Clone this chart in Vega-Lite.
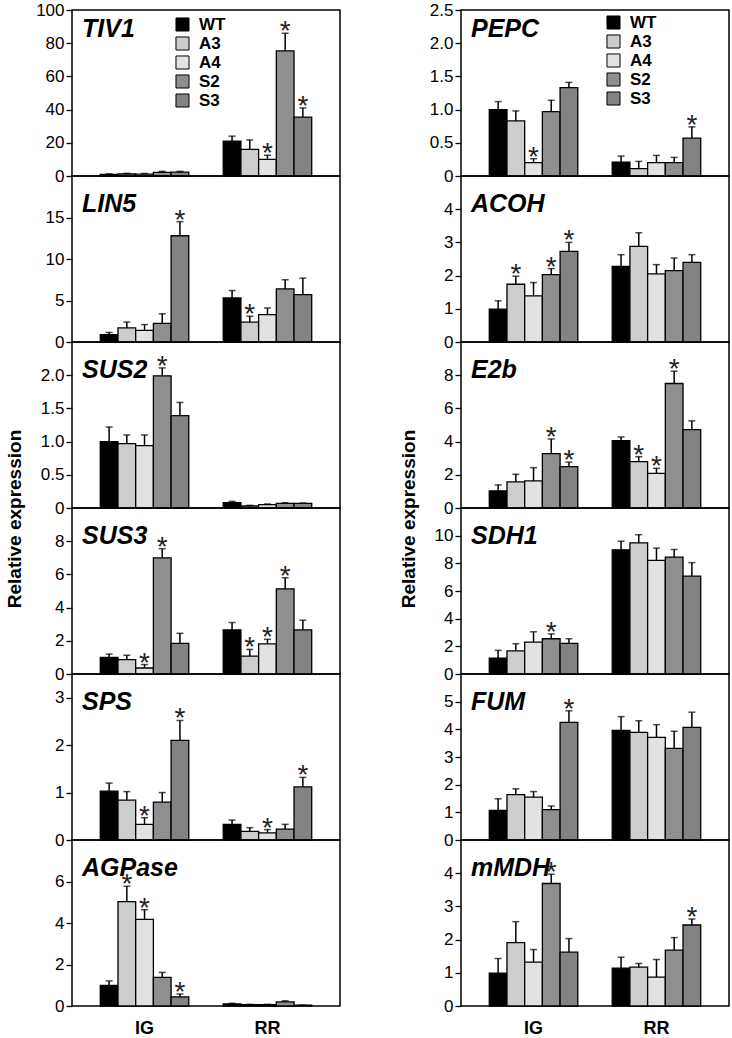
{
"$schema": "https://vega.github.io/schema/vega-lite/v6.json",
"padding": {"top": 0, "left": 5, "right": 2, "bottom": 0},
"data": {"values": [
{"gene":"TIV1","tissue":"IG","line":"WT","value":1.0,"upper":1.3,"sig":false},
{"gene":"TIV1","tissue":"IG","line":"A3","value":1.2,"upper":1.6,"sig":false},
{"gene":"TIV1","tissue":"IG","line":"A4","value":1.1,"upper":1.5,"sig":false},
{"gene":"TIV1","tissue":"IG","line":"S2","value":2.2,"upper":2.8,"sig":false},
{"gene":"TIV1","tissue":"IG","line":"S3","value":2.3,"upper":2.8,"sig":false},
{"gene":"TIV1","tissue":"RR","line":"WT","value":21,"upper":24,"sig":false},
{"gene":"TIV1","tissue":"RR","line":"A3","value":16,"upper":21.7,"sig":false},
{"gene":"TIV1","tissue":"RR","line":"A4","value":10,"upper":12.5,"sig":true},
{"gene":"TIV1","tissue":"RR","line":"S2","value":75.4,"upper":86,"sig":true},
{"gene":"TIV1","tissue":"RR","line":"S3","value":35.5,"upper":41,"sig":true},
{"gene":"LIN5","tissue":"IG","line":"WT","value":0.9,"upper":1.15,"sig":false},
{"gene":"LIN5","tissue":"IG","line":"A3","value":1.7,"upper":2.4,"sig":false},
{"gene":"LIN5","tissue":"IG","line":"A4","value":1.4,"upper":2.1,"sig":false},
{"gene":"LIN5","tissue":"IG","line":"S2","value":2.25,"upper":3.4,"sig":false},
{"gene":"LIN5","tissue":"IG","line":"S3","value":12.8,"upper":14.5,"sig":true},
{"gene":"LIN5","tissue":"RR","line":"WT","value":5.3,"upper":6.2,"sig":false},
{"gene":"LIN5","tissue":"RR","line":"A3","value":2.4,"upper":3.1,"sig":true},
{"gene":"LIN5","tissue":"RR","line":"A4","value":3.3,"upper":4.1,"sig":false},
{"gene":"LIN5","tissue":"RR","line":"S2","value":6.4,"upper":7.5,"sig":false},
{"gene":"LIN5","tissue":"RR","line":"S3","value":5.7,"upper":7.7,"sig":false},
{"gene":"SUS2","tissue":"IG","line":"WT","value":1.0,"upper":1.22,"sig":false},
{"gene":"SUS2","tissue":"IG","line":"A3","value":0.97,"upper":1.1,"sig":false},
{"gene":"SUS2","tissue":"IG","line":"A4","value":0.94,"upper":1.1,"sig":false},
{"gene":"SUS2","tissue":"IG","line":"S2","value":1.99,"upper":2.11,"sig":true},
{"gene":"SUS2","tissue":"IG","line":"S3","value":1.39,"upper":1.59,"sig":false},
{"gene":"SUS2","tissue":"RR","line":"WT","value":0.08,"upper":0.1,"sig":false},
{"gene":"SUS2","tissue":"RR","line":"A3","value":0.03,"upper":0.04,"sig":false},
{"gene":"SUS2","tissue":"RR","line":"A4","value":0.05,"upper":0.06,"sig":false},
{"gene":"SUS2","tissue":"RR","line":"S2","value":0.07,"upper":0.08,"sig":false},
{"gene":"SUS2","tissue":"RR","line":"S3","value":0.07,"upper":0.075,"sig":false},
{"gene":"SUS3","tissue":"IG","line":"WT","value":1.0,"upper":1.2,"sig":false},
{"gene":"SUS3","tissue":"IG","line":"A3","value":0.87,"upper":1.13,"sig":false},
{"gene":"SUS3","tissue":"IG","line":"A4","value":0.36,"upper":0.57,"sig":true},
{"gene":"SUS3","tissue":"IG","line":"S2","value":7.0,"upper":7.55,"sig":true},
{"gene":"SUS3","tissue":"IG","line":"S3","value":1.84,"upper":2.45,"sig":false},
{"gene":"SUS3","tissue":"RR","line":"WT","value":2.66,"upper":3.1,"sig":false},
{"gene":"SUS3","tissue":"RR","line":"A3","value":1.08,"upper":1.48,"sig":true},
{"gene":"SUS3","tissue":"RR","line":"A4","value":1.82,"upper":2.09,"sig":true},
{"gene":"SUS3","tissue":"RR","line":"S2","value":5.13,"upper":5.8,"sig":true},
{"gene":"SUS3","tissue":"RR","line":"S3","value":2.66,"upper":3.24,"sig":false},
{"gene":"SPS","tissue":"IG","line":"WT","value":1.03,"upper":1.2,"sig":false},
{"gene":"SPS","tissue":"IG","line":"A3","value":0.84,"upper":1.02,"sig":false},
{"gene":"SPS","tissue":"IG","line":"A4","value":0.33,"upper":0.47,"sig":true},
{"gene":"SPS","tissue":"IG","line":"S2","value":0.8,"upper":1.0,"sig":false},
{"gene":"SPS","tissue":"IG","line":"S3","value":2.1,"upper":2.52,"sig":true},
{"gene":"SPS","tissue":"RR","line":"WT","value":0.33,"upper":0.42,"sig":false},
{"gene":"SPS","tissue":"RR","line":"A3","value":0.18,"upper":0.26,"sig":false},
{"gene":"SPS","tissue":"RR","line":"A4","value":0.15,"upper":0.22,"sig":true},
{"gene":"SPS","tissue":"RR","line":"S2","value":0.23,"upper":0.33,"sig":false},
{"gene":"SPS","tissue":"RR","line":"S3","value":1.12,"upper":1.32,"sig":true},
{"gene":"AGPase","tissue":"IG","line":"WT","value":0.99,"upper":1.21,"sig":false},
{"gene":"AGPase","tissue":"IG","line":"A3","value":5.03,"upper":5.77,"sig":true},
{"gene":"AGPase","tissue":"IG","line":"A4","value":4.17,"upper":4.64,"sig":true},
{"gene":"AGPase","tissue":"IG","line":"S2","value":1.38,"upper":1.62,"sig":false},
{"gene":"AGPase","tissue":"IG","line":"S3","value":0.44,"upper":0.58,"sig":true},
{"gene":"AGPase","tissue":"RR","line":"WT","value":0.1,"upper":0.13,"sig":false},
{"gene":"AGPase","tissue":"RR","line":"A3","value":0.07,"upper":0.08,"sig":false},
{"gene":"AGPase","tissue":"RR","line":"A4","value":0.07,"upper":0.08,"sig":false},
{"gene":"AGPase","tissue":"RR","line":"S2","value":0.2,"upper":0.25,"sig":false},
{"gene":"AGPase","tissue":"RR","line":"S3","value":0.04,"upper":0.05,"sig":false},
{"gene":"PEPC","tissue":"IG","line":"WT","value":1.0,"upper":1.12,"sig":false},
{"gene":"PEPC","tissue":"IG","line":"A3","value":0.83,"upper":0.98,"sig":false},
{"gene":"PEPC","tissue":"IG","line":"A4","value":0.2,"upper":0.26,"sig":true},
{"gene":"PEPC","tissue":"IG","line":"S2","value":0.97,"upper":1.14,"sig":false},
{"gene":"PEPC","tissue":"IG","line":"S3","value":1.33,"upper":1.41,"sig":false},
{"gene":"PEPC","tissue":"RR","line":"WT","value":0.21,"upper":0.3,"sig":false},
{"gene":"PEPC","tissue":"RR","line":"A3","value":0.11,"upper":0.22,"sig":false},
{"gene":"PEPC","tissue":"RR","line":"A4","value":0.2,"upper":0.31,"sig":false},
{"gene":"PEPC","tissue":"RR","line":"S2","value":0.2,"upper":0.28,"sig":false},
{"gene":"PEPC","tissue":"RR","line":"S3","value":0.57,"upper":0.74,"sig":true},
{"gene":"ACOH","tissue":"IG","line":"WT","value":0.99,"upper":1.24,"sig":false},
{"gene":"ACOH","tissue":"IG","line":"A3","value":1.74,"upper":1.98,"sig":true},
{"gene":"ACOH","tissue":"IG","line":"A4","value":1.39,"upper":1.79,"sig":false},
{"gene":"ACOH","tissue":"IG","line":"S2","value":2.03,"upper":2.21,"sig":true},
{"gene":"ACOH","tissue":"IG","line":"S3","value":2.73,"upper":3.0,"sig":true},
{"gene":"ACOH","tissue":"RR","line":"WT","value":2.28,"upper":2.63,"sig":false},
{"gene":"ACOH","tissue":"RR","line":"A3","value":2.88,"upper":3.29,"sig":false},
{"gene":"ACOH","tissue":"RR","line":"A4","value":2.05,"upper":2.33,"sig":false},
{"gene":"ACOH","tissue":"RR","line":"S2","value":2.15,"upper":2.53,"sig":false},
{"gene":"ACOH","tissue":"RR","line":"S3","value":2.4,"upper":2.63,"sig":false},
{"gene":"E2b","tissue":"IG","line":"WT","value":1.03,"upper":1.39,"sig":false},
{"gene":"E2b","tissue":"IG","line":"A3","value":1.57,"upper":2.03,"sig":false},
{"gene":"E2b","tissue":"IG","line":"A4","value":1.63,"upper":2.43,"sig":false},
{"gene":"E2b","tissue":"IG","line":"S2","value":3.28,"upper":4.16,"sig":true},
{"gene":"E2b","tissue":"IG","line":"S3","value":2.49,"upper":2.76,"sig":true},
{"gene":"E2b","tissue":"RR","line":"WT","value":4.06,"upper":4.28,"sig":false},
{"gene":"E2b","tissue":"RR","line":"A3","value":2.79,"upper":3.09,"sig":true},
{"gene":"E2b","tissue":"RR","line":"A4","value":2.09,"upper":2.39,"sig":true},
{"gene":"E2b","tissue":"RR","line":"S2","value":7.5,"upper":8.24,"sig":true},
{"gene":"E2b","tissue":"RR","line":"S3","value":4.72,"upper":5.25,"sig":false},
{"gene":"SDH1","tissue":"IG","line":"WT","value":1.14,"upper":1.71,"sig":false},
{"gene":"SDH1","tissue":"IG","line":"A3","value":1.67,"upper":2.19,"sig":false},
{"gene":"SDH1","tissue":"IG","line":"A4","value":2.31,"upper":3.05,"sig":false},
{"gene":"SDH1","tissue":"IG","line":"S2","value":2.55,"upper":2.9,"sig":true},
{"gene":"SDH1","tissue":"IG","line":"S3","value":2.21,"upper":2.55,"sig":false},
{"gene":"SDH1","tissue":"RR","line":"WT","value":8.98,"upper":9.6,"sig":false},
{"gene":"SDH1","tissue":"RR","line":"A3","value":9.48,"upper":10.07,"sig":false},
{"gene":"SDH1","tissue":"RR","line":"A4","value":8.21,"upper":9.1,"sig":false},
{"gene":"SDH1","tissue":"RR","line":"S2","value":8.45,"upper":9.0,"sig":false},
{"gene":"SDH1","tissue":"RR","line":"S3","value":7.07,"upper":8.05,"sig":false},
{"gene":"FUM","tissue":"IG","line":"WT","value":1.07,"upper":1.49,"sig":false},
{"gene":"FUM","tissue":"IG","line":"A3","value":1.64,"upper":1.85,"sig":false},
{"gene":"FUM","tissue":"IG","line":"A4","value":1.55,"upper":1.75,"sig":false},
{"gene":"FUM","tissue":"IG","line":"S2","value":1.1,"upper":1.23,"sig":false},
{"gene":"FUM","tissue":"IG","line":"S3","value":4.25,"upper":4.67,"sig":true},
{"gene":"FUM","tissue":"RR","line":"WT","value":3.96,"upper":4.46,"sig":false},
{"gene":"FUM","tissue":"RR","line":"A3","value":3.89,"upper":4.31,"sig":false},
{"gene":"FUM","tissue":"RR","line":"A4","value":3.71,"upper":4.17,"sig":false},
{"gene":"FUM","tissue":"RR","line":"S2","value":3.31,"upper":3.93,"sig":false},
{"gene":"FUM","tissue":"RR","line":"S3","value":4.07,"upper":4.62,"sig":false},
{"gene":"mMDH","tissue":"IG","line":"WT","value":0.99,"upper":1.43,"sig":false},
{"gene":"mMDH","tissue":"IG","line":"A3","value":1.91,"upper":2.54,"sig":false},
{"gene":"mMDH","tissue":"IG","line":"A4","value":1.32,"upper":1.7,"sig":false},
{"gene":"mMDH","tissue":"IG","line":"S2","value":3.69,"upper":3.97,"sig":true},
{"gene":"mMDH","tissue":"IG","line":"S3","value":1.62,"upper":2.03,"sig":false},
{"gene":"mMDH","tissue":"RR","line":"WT","value":1.14,"upper":1.47,"sig":false},
{"gene":"mMDH","tissue":"RR","line":"A3","value":1.17,"upper":1.28,"sig":false},
{"gene":"mMDH","tissue":"RR","line":"A4","value":0.87,"upper":1.4,"sig":false},
{"gene":"mMDH","tissue":"RR","line":"S2","value":1.68,"upper":2.06,"sig":false},
{"gene":"mMDH","tissue":"RR","line":"S3","value":2.44,"upper":2.62,"sig":true}
]},
"spacing": 58,
"resolve": {"scale": {"x": "independent", "y": "independent", "xOffset": "independent"}, "axis": {"x": "independent", "y": "independent"}, "legend": {"fill": "independent"}},
"hconcat": [
{
"spacing": 0, "bounds": "flush",
"title": {"text": "Relative expression", "orient": "left", "anchor": "middle", "frame": "bounds", "offset": 10, "dx": 0, "fontSize": 19, "fontWeight": "bold", "fontStyle": "normal"},
"resolve": {"scale": {"x": "independent", "y": "independent", "xOffset": "independent"}, "axis": {"x": "independent", "y": "independent"}, "legend": {"fill": "independent"}},
"vconcat": [
{"width": 268, "height": 166, "title": {"text": "TIV1"},
 "transform": [{"filter": "datum.gene === 'TIV1'"}],
 "encoding": {"x": {"field": "tissue", "type": "nominal", "sort": ["IG", "RR"], "scale": {"paddingInner": 0.28, "paddingOuter": 0.23}, "axis": null},
  "xOffset": {"field": "line", "type": "nominal", "sort": ["WT", "A3", "A4", "S2", "S3"], "scale": {"paddingInner": 0, "paddingOuter": 0}}},
 "layer": [
  {"mark": {"type": "bar", "stroke": "black", "strokeWidth": 1.3},
   "encoding": {"y": {"field": "value", "type": "quantitative", "title": null, "scale": {"domain": [0, 100], "nice": false}, "axis": {"values": [0, 20, 40, 60, 80, 100], "format": "d", "tickCount": 20}},
    "fill": {"field": "line", "type": "nominal", "scale": {"domain": ["WT", "A3", "A4", "S2", "S3"], "range": ["#000000", "#cdcdcd", "#e2e2e2", "#8f8f8f", "#838383"]},
     "legend": {"orient": "none", "legendX": 102, "legendY": 6, "title": null, "padding": 0, "symbolType": "square", "symbolSize": 170, "symbolStrokeColor": "black", "symbolStrokeWidth": 1, "labelFontSize": 17, "labelFontWeight": "bold", "labelFont": "Liberation Sans", "labelColor": "black", "rowPadding": 0, "labelOffset": 8}}}},
  {"mark": {"type": "rule", "color": "black", "strokeWidth": 1.5},
   "encoding": {"y": {"field": "value", "type": "quantitative", "title": null, "scale": {"domain": [0, 100], "nice": false}}, "y2": {"field": "upper"}}},
  {"mark": {"type": "tick", "orient": "horizontal", "color": "black", "thickness": 1.5, "size": 7},
   "encoding": {"y": {"field": "upper", "type": "quantitative", "title": null, "scale": {"domain": [0, 100], "nice": false}}}},
  {"transform": [{"filter": "datum.sig"}],
   "mark": {"type": "text", "text": "*", "fontSize": 28, "dy": 7, "baseline": "alphabetic", "font": "Liberation Sans", "color": "#222222"},
   "encoding": {"y": {"field": "upper", "type": "quantitative", "title": null, "scale": {"domain": [0, 100], "nice": false}}}}
 ]},
{"width": 268, "height": 166, "title": {"text": "LIN5"},
 "transform": [{"filter": "datum.gene === 'LIN5'"}],
 "encoding": {"x": {"field": "tissue", "type": "nominal", "sort": ["IG", "RR"], "scale": {"paddingInner": 0.28, "paddingOuter": 0.23}, "axis": null},
  "xOffset": {"field": "line", "type": "nominal", "sort": ["WT", "A3", "A4", "S2", "S3"], "scale": {"paddingInner": 0, "paddingOuter": 0}}},
 "layer": [
  {"mark": {"type": "bar", "stroke": "black", "strokeWidth": 1.3},
   "encoding": {"y": {"field": "value", "type": "quantitative", "title": null, "scale": {"domain": [0, 20], "nice": false}, "axis": {"values": [0, 5, 10, 15], "format": "d", "tickCount": 20}},
    "fill": {"field": "line", "type": "nominal", "scale": {"domain": ["WT", "A3", "A4", "S2", "S3"], "range": ["#000000", "#cdcdcd", "#e2e2e2", "#8f8f8f", "#838383"]}, "legend": null}}},
  {"mark": {"type": "rule", "color": "black", "strokeWidth": 1.5},
   "encoding": {"y": {"field": "value", "type": "quantitative", "title": null, "scale": {"domain": [0, 20], "nice": false}}, "y2": {"field": "upper"}}},
  {"mark": {"type": "tick", "orient": "horizontal", "color": "black", "thickness": 1.5, "size": 7},
   "encoding": {"y": {"field": "upper", "type": "quantitative", "title": null, "scale": {"domain": [0, 20], "nice": false}}}},
  {"transform": [{"filter": "datum.sig"}],
   "mark": {"type": "text", "text": "*", "fontSize": 28, "dy": 7, "baseline": "alphabetic", "font": "Liberation Sans", "color": "#222222"},
   "encoding": {"y": {"field": "upper", "type": "quantitative", "title": null, "scale": {"domain": [0, 20], "nice": false}}}}
 ]},
{"width": 268, "height": 166, "title": {"text": "SUS2"},
 "transform": [{"filter": "datum.gene === 'SUS2'"}],
 "encoding": {"x": {"field": "tissue", "type": "nominal", "sort": ["IG", "RR"], "scale": {"paddingInner": 0.28, "paddingOuter": 0.23}, "axis": null},
  "xOffset": {"field": "line", "type": "nominal", "sort": ["WT", "A3", "A4", "S2", "S3"], "scale": {"paddingInner": 0, "paddingOuter": 0}}},
 "layer": [
  {"mark": {"type": "bar", "stroke": "black", "strokeWidth": 1.3},
   "encoding": {"y": {"field": "value", "type": "quantitative", "title": null, "scale": {"domain": [0, 2.5], "nice": false}, "axis": {"values": [0, 0.5, 1, 1.5, 2], "tickCount": 20, "labelExpr": "datum.value == 0 ? '0' : format(datum.value, '.1f')"}},
    "fill": {"field": "line", "type": "nominal", "scale": {"domain": ["WT", "A3", "A4", "S2", "S3"], "range": ["#000000", "#cdcdcd", "#e2e2e2", "#8f8f8f", "#838383"]}, "legend": null}}},
  {"mark": {"type": "rule", "color": "black", "strokeWidth": 1.5},
   "encoding": {"y": {"field": "value", "type": "quantitative", "title": null, "scale": {"domain": [0, 2.5], "nice": false}}, "y2": {"field": "upper"}}},
  {"mark": {"type": "tick", "orient": "horizontal", "color": "black", "thickness": 1.5, "size": 7},
   "encoding": {"y": {"field": "upper", "type": "quantitative", "title": null, "scale": {"domain": [0, 2.5], "nice": false}}}},
  {"transform": [{"filter": "datum.sig"}],
   "mark": {"type": "text", "text": "*", "fontSize": 28, "dy": 7, "baseline": "alphabetic", "font": "Liberation Sans", "color": "#222222"},
   "encoding": {"y": {"field": "upper", "type": "quantitative", "title": null, "scale": {"domain": [0, 2.5], "nice": false}}}}
 ]},
{"width": 268, "height": 166, "title": {"text": "SUS3"},
 "transform": [{"filter": "datum.gene === 'SUS3'"}],
 "encoding": {"x": {"field": "tissue", "type": "nominal", "sort": ["IG", "RR"], "scale": {"paddingInner": 0.28, "paddingOuter": 0.23}, "axis": null},
  "xOffset": {"field": "line", "type": "nominal", "sort": ["WT", "A3", "A4", "S2", "S3"], "scale": {"paddingInner": 0, "paddingOuter": 0}}},
 "layer": [
  {"mark": {"type": "bar", "stroke": "black", "strokeWidth": 1.3},
   "encoding": {"y": {"field": "value", "type": "quantitative", "title": null, "scale": {"domain": [0, 10], "nice": false}, "axis": {"values": [0, 2, 4, 6, 8], "format": "d", "tickCount": 20}},
    "fill": {"field": "line", "type": "nominal", "scale": {"domain": ["WT", "A3", "A4", "S2", "S3"], "range": ["#000000", "#cdcdcd", "#e2e2e2", "#8f8f8f", "#838383"]}, "legend": null}}},
  {"mark": {"type": "rule", "color": "black", "strokeWidth": 1.5},
   "encoding": {"y": {"field": "value", "type": "quantitative", "title": null, "scale": {"domain": [0, 10], "nice": false}}, "y2": {"field": "upper"}}},
  {"mark": {"type": "tick", "orient": "horizontal", "color": "black", "thickness": 1.5, "size": 7},
   "encoding": {"y": {"field": "upper", "type": "quantitative", "title": null, "scale": {"domain": [0, 10], "nice": false}}}},
  {"transform": [{"filter": "datum.sig"}],
   "mark": {"type": "text", "text": "*", "fontSize": 28, "dy": 7, "baseline": "alphabetic", "font": "Liberation Sans", "color": "#222222"},
   "encoding": {"y": {"field": "upper", "type": "quantitative", "title": null, "scale": {"domain": [0, 10], "nice": false}}}}
 ]},
{"width": 268, "height": 166, "title": {"text": "SPS"},
 "transform": [{"filter": "datum.gene === 'SPS'"}],
 "encoding": {"x": {"field": "tissue", "type": "nominal", "sort": ["IG", "RR"], "scale": {"paddingInner": 0.28, "paddingOuter": 0.23}, "axis": null},
  "xOffset": {"field": "line", "type": "nominal", "sort": ["WT", "A3", "A4", "S2", "S3"], "scale": {"paddingInner": 0, "paddingOuter": 0}}},
 "layer": [
  {"mark": {"type": "bar", "stroke": "black", "strokeWidth": 1.3},
   "encoding": {"y": {"field": "value", "type": "quantitative", "title": null, "scale": {"domain": [0, 3.5], "nice": false}, "axis": {"values": [0, 1, 2, 3], "format": "d", "tickCount": 20}},
    "fill": {"field": "line", "type": "nominal", "scale": {"domain": ["WT", "A3", "A4", "S2", "S3"], "range": ["#000000", "#cdcdcd", "#e2e2e2", "#8f8f8f", "#838383"]}, "legend": null}}},
  {"mark": {"type": "rule", "color": "black", "strokeWidth": 1.5},
   "encoding": {"y": {"field": "value", "type": "quantitative", "title": null, "scale": {"domain": [0, 3.5], "nice": false}}, "y2": {"field": "upper"}}},
  {"mark": {"type": "tick", "orient": "horizontal", "color": "black", "thickness": 1.5, "size": 7},
   "encoding": {"y": {"field": "upper", "type": "quantitative", "title": null, "scale": {"domain": [0, 3.5], "nice": false}}}},
  {"transform": [{"filter": "datum.sig"}],
   "mark": {"type": "text", "text": "*", "fontSize": 28, "dy": 7, "baseline": "alphabetic", "font": "Liberation Sans", "color": "#222222"},
   "encoding": {"y": {"field": "upper", "type": "quantitative", "title": null, "scale": {"domain": [0, 3.5], "nice": false}}}}
 ]},
{"width": 268, "height": 166, "title": {"text": "AGPase"},
 "transform": [{"filter": "datum.gene === 'AGPase'"}],
 "encoding": {"x": {"field": "tissue", "type": "nominal", "sort": ["IG", "RR"], "scale": {"paddingInner": 0.28, "paddingOuter": 0.23}, "title": null, "axis": {"labelFontSize": 18, "labelFontWeight": "bold", "labelAngle": 0, "ticks": false, "domain": false, "labelPadding": 13}},
  "xOffset": {"field": "line", "type": "nominal", "sort": ["WT", "A3", "A4", "S2", "S3"], "scale": {"paddingInner": 0, "paddingOuter": 0}}},
 "layer": [
  {"mark": {"type": "bar", "stroke": "black", "strokeWidth": 1.3},
   "encoding": {"y": {"field": "value", "type": "quantitative", "title": null, "scale": {"domain": [0, 8], "nice": false}, "axis": {"values": [0, 2, 4, 6], "format": "d", "tickCount": 20}},
    "fill": {"field": "line", "type": "nominal", "scale": {"domain": ["WT", "A3", "A4", "S2", "S3"], "range": ["#000000", "#cdcdcd", "#e2e2e2", "#8f8f8f", "#838383"]}, "legend": null}}},
  {"mark": {"type": "rule", "color": "black", "strokeWidth": 1.5},
   "encoding": {"y": {"field": "value", "type": "quantitative", "title": null, "scale": {"domain": [0, 8], "nice": false}}, "y2": {"field": "upper"}}},
  {"mark": {"type": "tick", "orient": "horizontal", "color": "black", "thickness": 1.5, "size": 7},
   "encoding": {"y": {"field": "upper", "type": "quantitative", "title": null, "scale": {"domain": [0, 8], "nice": false}}}},
  {"transform": [{"filter": "datum.sig"}],
   "mark": {"type": "text", "text": "*", "fontSize": 28, "dy": 7, "baseline": "alphabetic", "font": "Liberation Sans", "color": "#222222"},
   "encoding": {"y": {"field": "upper", "type": "quantitative", "title": null, "scale": {"domain": [0, 8], "nice": false}}}}
 ]}
]
},
{
"spacing": 0, "bounds": "flush",
"title": {"text": "Relative expression", "orient": "left", "anchor": "middle", "frame": "bounds", "offset": 10, "dx": 0, "fontSize": 19, "fontWeight": "bold", "fontStyle": "normal"},
"resolve": {"scale": {"x": "independent", "y": "independent", "xOffset": "independent"}, "axis": {"x": "independent", "y": "independent"}, "legend": {"fill": "independent"}},
"vconcat": [
{"width": 268, "height": 166, "title": {"text": "PEPC"},
 "transform": [{"filter": "datum.gene === 'PEPC'"}],
 "encoding": {"x": {"field": "tissue", "type": "nominal", "sort": ["IG", "RR"], "scale": {"paddingInner": 0.28, "paddingOuter": 0.23}, "axis": null},
  "xOffset": {"field": "line", "type": "nominal", "sort": ["WT", "A3", "A4", "S2", "S3"], "scale": {"paddingInner": 0, "paddingOuter": 0}}},
 "layer": [
  {"mark": {"type": "bar", "stroke": "black", "strokeWidth": 1.3},
   "encoding": {"y": {"field": "value", "type": "quantitative", "title": null, "scale": {"domain": [0, 2.5], "nice": false}, "axis": {"values": [0, 0.5, 1, 1.5, 2, 2.5], "tickCount": 20, "labelExpr": "datum.value == 0 ? '0' : format(datum.value, '.1f')"}},
    "fill": {"field": "line", "type": "nominal", "scale": {"domain": ["WT", "A3", "A4", "S2", "S3"], "range": ["#000000", "#cdcdcd", "#e2e2e2", "#8f8f8f", "#838383"]},
     "legend": {"orient": "none", "legendX": 144, "legendY": 4, "title": null, "padding": 0, "symbolType": "square", "symbolSize": 170, "symbolStrokeColor": "black", "symbolStrokeWidth": 1, "labelFontSize": 17, "labelFontWeight": "bold", "labelFont": "Liberation Sans", "labelColor": "black", "rowPadding": 0, "labelOffset": 8}}}},
  {"mark": {"type": "rule", "color": "black", "strokeWidth": 1.5},
   "encoding": {"y": {"field": "value", "type": "quantitative", "title": null, "scale": {"domain": [0, 2.5], "nice": false}}, "y2": {"field": "upper"}}},
  {"mark": {"type": "tick", "orient": "horizontal", "color": "black", "thickness": 1.5, "size": 7},
   "encoding": {"y": {"field": "upper", "type": "quantitative", "title": null, "scale": {"domain": [0, 2.5], "nice": false}}}},
  {"transform": [{"filter": "datum.sig"}],
   "mark": {"type": "text", "text": "*", "fontSize": 28, "dy": 7, "baseline": "alphabetic", "font": "Liberation Sans", "color": "#222222"},
   "encoding": {"y": {"field": "upper", "type": "quantitative", "title": null, "scale": {"domain": [0, 2.5], "nice": false}}}}
 ]},
{"width": 268, "height": 166, "title": {"text": "ACOH"},
 "transform": [{"filter": "datum.gene === 'ACOH'"}],
 "encoding": {"x": {"field": "tissue", "type": "nominal", "sort": ["IG", "RR"], "scale": {"paddingInner": 0.28, "paddingOuter": 0.23}, "axis": null},
  "xOffset": {"field": "line", "type": "nominal", "sort": ["WT", "A3", "A4", "S2", "S3"], "scale": {"paddingInner": 0, "paddingOuter": 0}}},
 "layer": [
  {"mark": {"type": "bar", "stroke": "black", "strokeWidth": 1.3},
   "encoding": {"y": {"field": "value", "type": "quantitative", "title": null, "scale": {"domain": [0, 5], "nice": false}, "axis": {"values": [0, 1, 2, 3, 4], "format": "d", "tickCount": 20}},
    "fill": {"field": "line", "type": "nominal", "scale": {"domain": ["WT", "A3", "A4", "S2", "S3"], "range": ["#000000", "#cdcdcd", "#e2e2e2", "#8f8f8f", "#838383"]}, "legend": null}}},
  {"mark": {"type": "rule", "color": "black", "strokeWidth": 1.5},
   "encoding": {"y": {"field": "value", "type": "quantitative", "title": null, "scale": {"domain": [0, 5], "nice": false}}, "y2": {"field": "upper"}}},
  {"mark": {"type": "tick", "orient": "horizontal", "color": "black", "thickness": 1.5, "size": 7},
   "encoding": {"y": {"field": "upper", "type": "quantitative", "title": null, "scale": {"domain": [0, 5], "nice": false}}}},
  {"transform": [{"filter": "datum.sig"}],
   "mark": {"type": "text", "text": "*", "fontSize": 28, "dy": 7, "baseline": "alphabetic", "font": "Liberation Sans", "color": "#222222"},
   "encoding": {"y": {"field": "upper", "type": "quantitative", "title": null, "scale": {"domain": [0, 5], "nice": false}}}}
 ]},
{"width": 268, "height": 166, "title": {"text": "E2b"},
 "transform": [{"filter": "datum.gene === 'E2b'"}],
 "encoding": {"x": {"field": "tissue", "type": "nominal", "sort": ["IG", "RR"], "scale": {"paddingInner": 0.28, "paddingOuter": 0.23}, "axis": null},
  "xOffset": {"field": "line", "type": "nominal", "sort": ["WT", "A3", "A4", "S2", "S3"], "scale": {"paddingInner": 0, "paddingOuter": 0}}},
 "layer": [
  {"mark": {"type": "bar", "stroke": "black", "strokeWidth": 1.3},
   "encoding": {"y": {"field": "value", "type": "quantitative", "title": null, "scale": {"domain": [0, 10], "nice": false}, "axis": {"values": [0, 2, 4, 6, 8], "format": "d", "tickCount": 20}},
    "fill": {"field": "line", "type": "nominal", "scale": {"domain": ["WT", "A3", "A4", "S2", "S3"], "range": ["#000000", "#cdcdcd", "#e2e2e2", "#8f8f8f", "#838383"]}, "legend": null}}},
  {"mark": {"type": "rule", "color": "black", "strokeWidth": 1.5},
   "encoding": {"y": {"field": "value", "type": "quantitative", "title": null, "scale": {"domain": [0, 10], "nice": false}}, "y2": {"field": "upper"}}},
  {"mark": {"type": "tick", "orient": "horizontal", "color": "black", "thickness": 1.5, "size": 7},
   "encoding": {"y": {"field": "upper", "type": "quantitative", "title": null, "scale": {"domain": [0, 10], "nice": false}}}},
  {"transform": [{"filter": "datum.sig"}],
   "mark": {"type": "text", "text": "*", "fontSize": 28, "dy": 7, "baseline": "alphabetic", "font": "Liberation Sans", "color": "#222222"},
   "encoding": {"y": {"field": "upper", "type": "quantitative", "title": null, "scale": {"domain": [0, 10], "nice": false}}}}
 ]},
{"width": 268, "height": 166, "title": {"text": "SDH1"},
 "transform": [{"filter": "datum.gene === 'SDH1'"}],
 "encoding": {"x": {"field": "tissue", "type": "nominal", "sort": ["IG", "RR"], "scale": {"paddingInner": 0.28, "paddingOuter": 0.23}, "axis": null},
  "xOffset": {"field": "line", "type": "nominal", "sort": ["WT", "A3", "A4", "S2", "S3"], "scale": {"paddingInner": 0, "paddingOuter": 0}}},
 "layer": [
  {"mark": {"type": "bar", "stroke": "black", "strokeWidth": 1.3},
   "encoding": {"y": {"field": "value", "type": "quantitative", "title": null, "scale": {"domain": [0, 12], "nice": false}, "axis": {"values": [0, 2, 4, 6, 8, 10], "format": "d", "tickCount": 20}},
    "fill": {"field": "line", "type": "nominal", "scale": {"domain": ["WT", "A3", "A4", "S2", "S3"], "range": ["#000000", "#cdcdcd", "#e2e2e2", "#8f8f8f", "#838383"]}, "legend": null}}},
  {"mark": {"type": "rule", "color": "black", "strokeWidth": 1.5},
   "encoding": {"y": {"field": "value", "type": "quantitative", "title": null, "scale": {"domain": [0, 12], "nice": false}}, "y2": {"field": "upper"}}},
  {"mark": {"type": "tick", "orient": "horizontal", "color": "black", "thickness": 1.5, "size": 7},
   "encoding": {"y": {"field": "upper", "type": "quantitative", "title": null, "scale": {"domain": [0, 12], "nice": false}}}},
  {"transform": [{"filter": "datum.sig"}],
   "mark": {"type": "text", "text": "*", "fontSize": 28, "dy": 7, "baseline": "alphabetic", "font": "Liberation Sans", "color": "#222222"},
   "encoding": {"y": {"field": "upper", "type": "quantitative", "title": null, "scale": {"domain": [0, 12], "nice": false}}}}
 ]},
{"width": 268, "height": 166, "title": {"text": "FUM"},
 "transform": [{"filter": "datum.gene === 'FUM'"}],
 "encoding": {"x": {"field": "tissue", "type": "nominal", "sort": ["IG", "RR"], "scale": {"paddingInner": 0.28, "paddingOuter": 0.23}, "axis": null},
  "xOffset": {"field": "line", "type": "nominal", "sort": ["WT", "A3", "A4", "S2", "S3"], "scale": {"paddingInner": 0, "paddingOuter": 0}}},
 "layer": [
  {"mark": {"type": "bar", "stroke": "black", "strokeWidth": 1.3},
   "encoding": {"y": {"field": "value", "type": "quantitative", "title": null, "scale": {"domain": [0, 6], "nice": false}, "axis": {"values": [0, 1, 2, 3, 4, 5], "format": "d", "tickCount": 20}},
    "fill": {"field": "line", "type": "nominal", "scale": {"domain": ["WT", "A3", "A4", "S2", "S3"], "range": ["#000000", "#cdcdcd", "#e2e2e2", "#8f8f8f", "#838383"]}, "legend": null}}},
  {"mark": {"type": "rule", "color": "black", "strokeWidth": 1.5},
   "encoding": {"y": {"field": "value", "type": "quantitative", "title": null, "scale": {"domain": [0, 6], "nice": false}}, "y2": {"field": "upper"}}},
  {"mark": {"type": "tick", "orient": "horizontal", "color": "black", "thickness": 1.5, "size": 7},
   "encoding": {"y": {"field": "upper", "type": "quantitative", "title": null, "scale": {"domain": [0, 6], "nice": false}}}},
  {"transform": [{"filter": "datum.sig"}],
   "mark": {"type": "text", "text": "*", "fontSize": 28, "dy": 7, "baseline": "alphabetic", "font": "Liberation Sans", "color": "#222222"},
   "encoding": {"y": {"field": "upper", "type": "quantitative", "title": null, "scale": {"domain": [0, 6], "nice": false}}}}
 ]},
{"width": 268, "height": 166, "title": {"text": "mMDH"},
 "transform": [{"filter": "datum.gene === 'mMDH'"}],
 "encoding": {"x": {"field": "tissue", "type": "nominal", "sort": ["IG", "RR"], "scale": {"paddingInner": 0.28, "paddingOuter": 0.23}, "title": null, "axis": {"labelFontSize": 18, "labelFontWeight": "bold", "labelAngle": 0, "ticks": false, "domain": false, "labelPadding": 13}},
  "xOffset": {"field": "line", "type": "nominal", "sort": ["WT", "A3", "A4", "S2", "S3"], "scale": {"paddingInner": 0, "paddingOuter": 0}}},
 "layer": [
  {"mark": {"type": "bar", "stroke": "black", "strokeWidth": 1.3},
   "encoding": {"y": {"field": "value", "type": "quantitative", "title": null, "scale": {"domain": [0, 5], "nice": false}, "axis": {"values": [0, 1, 2, 3, 4], "format": "d", "tickCount": 20}},
    "fill": {"field": "line", "type": "nominal", "scale": {"domain": ["WT", "A3", "A4", "S2", "S3"], "range": ["#000000", "#cdcdcd", "#e2e2e2", "#8f8f8f", "#838383"]}, "legend": null}}},
  {"mark": {"type": "rule", "color": "black", "strokeWidth": 1.5},
   "encoding": {"y": {"field": "value", "type": "quantitative", "title": null, "scale": {"domain": [0, 5], "nice": false}}, "y2": {"field": "upper"}}},
  {"mark": {"type": "tick", "orient": "horizontal", "color": "black", "thickness": 1.5, "size": 7},
   "encoding": {"y": {"field": "upper", "type": "quantitative", "title": null, "scale": {"domain": [0, 5], "nice": false}}}},
  {"transform": [{"filter": "datum.sig"}],
   "mark": {"type": "text", "text": "*", "fontSize": 28, "dy": 7, "baseline": "alphabetic", "font": "Liberation Sans", "color": "#222222"},
   "encoding": {"y": {"field": "upper", "type": "quantitative", "title": null, "scale": {"domain": [0, 5], "nice": false}}}}
 ]}
]
}
],
"config": {
 "font": "Liberation Sans",
 "view": {"stroke": "black", "strokeWidth": 1.5},
 "axis": {"labelFont": "Liberation Sans", "labelFontSize": 17, "labelColor": "black", "tickColor": "black", "tickSize": 6, "tickWidth": 1.3, "domainColor": "black", "grid": false, "labelPadding": 2, "labelOverlap": false, "tickCount": 20},
 "axisY": {"domain": false},
 "title": {"anchor": "start", "frame": "group", "offset": -41, "dx": 10, "fontSize": 25, "fontStyle": "italic", "fontWeight": "bold", "font": "Liberation Sans", "color": "black"}
}
}
